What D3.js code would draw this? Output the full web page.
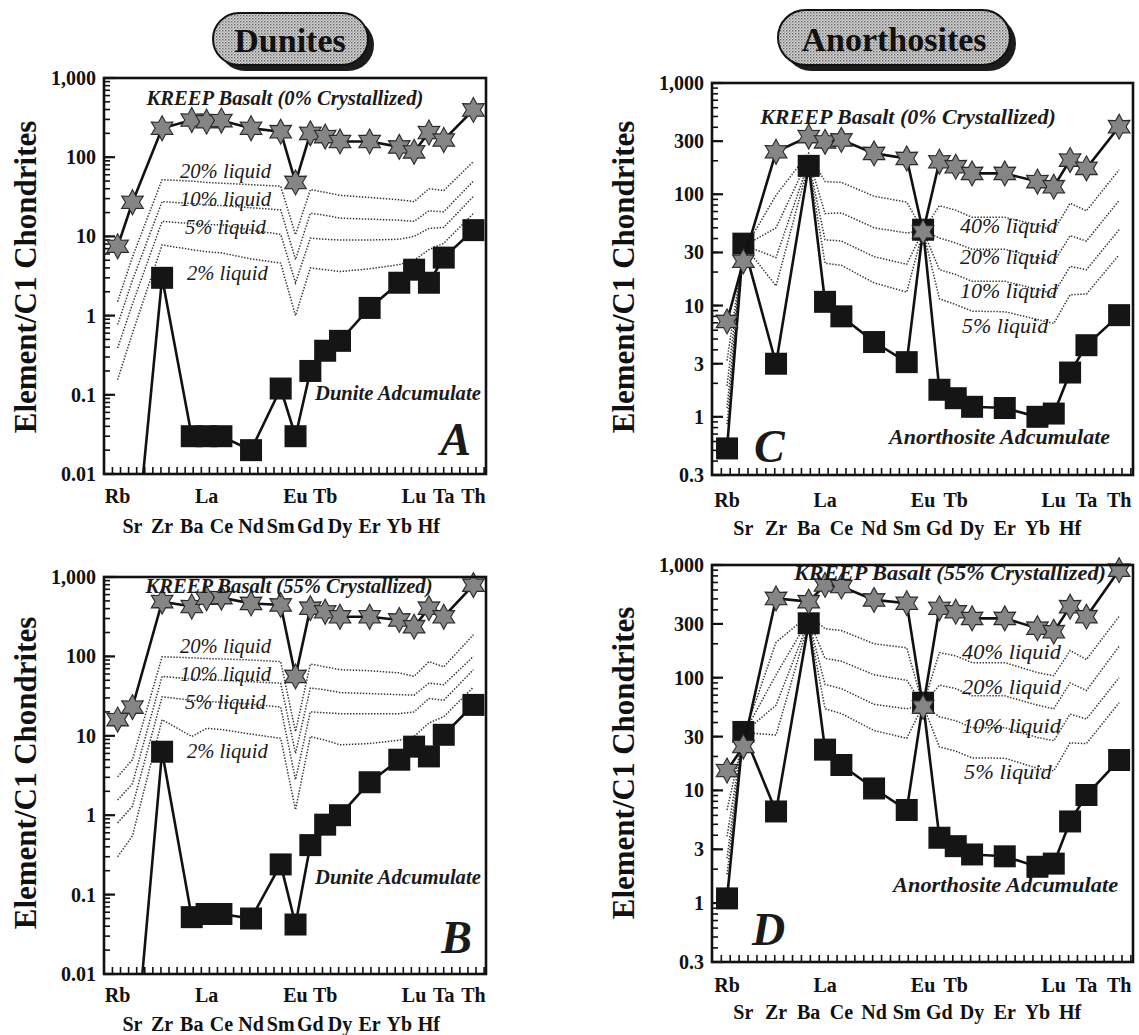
<!DOCTYPE html>
<html><head><meta charset="utf-8">
<script src="https://cdn.jsdelivr.net/npm/d3@7"></script>
<style>body{margin:0;background:#fff} svg{display:block}</style>
</head><body>
<svg id="chart" width="1139" height="1035"></svg>
<script>
// ---------- DATA ----------
const elements = ["Rb","Sr","Zr","Ba","La","Ce","Nd","Sm","Eu","Gd","Tb","Dy","Er","Yb","Lu","Hf","Ta","Th"];
const elementPos = [0,1,3,5,6,7,9,11,12,13,14,15,17,19,20,21,22,24];
const labelRow = [0,1,1,1,0,1,1,1,0,1,0,1,1,1,0,1,0,0]; // 0 = upper row, 1 = lower row

const yTicksDunite = [0.01, 0.1, 1, 10, 100, 1000];
const yTickLabelsDunite = ["0.01", "0.1", "1", "10", "100", "1,000"];
const yTicksAnorth = [0.3, 1, 3, 10, 30, 100, 300, 1000];
const yTickLabelsAnorth = ["0.3", "1", "3", "10", "30", "100", "300", "1,000"];

// Panel A : Dunites, KREEP 0% crystallized
const kreepA = [7.5, 27, 232, 295, 281, 290, 232, 210, 48, 200, 182, 158, 158, 135, 117, 205, 165, 395];
const adcumA = [0.0001, 0.0004, 3, 0.03, 0.03, 0.03, 0.02, 0.12, 0.03, 0.2, 0.36, 0.48, 1.25, 2.6, 3.8, 2.6, 5.4, 12];
const liqA20 = [1.5, 5.5, 52, 50, 48, 47, 45, 43, 10.5, 39, 36, 33, 31, 29, 27.5, 40, 38, 88];
const liqA10 = [0.77, 2.8, 27.5, 26, 25, 24.5, 23, 21.6, 5.1, 19.6, 18.5, 17, 16.5, 16, 15.5, 21, 20.5, 50];
const liqA5  = [0.39, 1.4, 15.5, 14.5, 14, 14, 12, 10.6, 2.6, 9.5, 9.2, 9, 9, 9.2, 10, 12.6, 13, 32];
const liqA2  = [0.155, 0.6, 7.8, 6.8, 6.4, 6.2, 5.2, 4.6, 1.0, 4.0, 3.8, 3.6, 3.9, 4.4, 5, 6.8, 8.2, 19.5];

// Panel B : Dunites, KREEP 55% crystallized
const kreepB = [16, 23, 490, 425, 540, 550, 465, 445, 56, 405, 365, 316, 316, 288, 237, 405, 316, 790];
const adcumB = [0.0001, 0.0004, 6.3, 0.052, 0.057, 0.057, 0.05, 0.24, 0.042, 0.42, 0.76, 1.0, 2.6, 5.0, 7.3, 5.5, 10.3, 24.5];
const liqB20 = [3.05, 5, 99, 96, 94, 93, 90, 86, 11.3, 80, 74, 68, 66, 62, 56, 86, 74, 187];
const liqB10 = [1.55, 2.5, 56, 52, 51, 50, 48, 46, 6.0, 40, 38, 35, 34, 33, 32.5, 46, 44, 100];
const liqB5  = [0.8, 1.3, 31, 28, 27, 26.5, 25, 23, 2.8, 20, 19.5, 19, 19, 19, 20, 29.5, 28, 68];
const liqB2  = [0.3, 0.55, 16, 9.8, 12.4, 12, 10.5, 9.3, 1.17, 9.8, 8.8, 7.7, 8, 8.8, 9.8, 14.5, 17.4, 41];

// Panel C : Anorthosites, KREEP 0% crystallized
const kreepC = [7.2, 25, 241, 330, 296, 308, 233, 210, 46, 196, 177, 154, 154, 130, 117, 203, 171, 405];
const adcumC = [0.52, 36, 3.0, 180, 10.8, 8, 4.7, 3.1, 48, 1.75, 1.47, 1.23, 1.2, 1.0, 1.07, 2.5, 4.4, 8.2];
const liqC40 = [3.2, 31, 98, 235, 130, 128, 96, 85, 47, 79, 72, 62, 62, 53, 47, 83, 71, 166];
const liqC20 = [1.9, 34, 50, 210, 67, 68, 50, 45, 47, 40.5, 36.5, 32, 32, 27, 24.5, 42.5, 38, 88];
const liqC10 = [1.2, 35, 27, 195, 39, 38, 27.5, 23.5, 47, 21, 19, 16.5, 16.5, 14, 12.7, 22.5, 21, 48];
const liqC5  = [0.86, 35.5, 15, 188, 24, 23, 16, 13.2, 47, 11.5, 10.2, 8.9, 8.8, 7.5, 6.9, 12.5, 12.7, 28.5];

// Panel D : Anorthosites, KREEP 55% crystallized
const kreepD = [15, 24.5, 505, 473, 665, 645, 490, 458, 55, 413, 385, 336, 336, 275, 256, 427, 348, 900];
const adcumD = [1.1, 33, 6.5, 304, 23, 16.8, 10.4, 6.7, 60, 3.8, 3.2, 2.7, 2.6, 2.1, 2.24, 5.3, 9.1, 18.6];
const liqD40 = [6.7, 29.6, 206, 360, 272, 262, 200, 184, 57, 167, 156, 136, 136, 111, 104, 174, 145, 350];
const liqD20 = [3.9, 31.3, 106, 330, 148, 140, 106, 95, 57, 86, 80, 69, 69, 57, 53, 90, 77, 190];
const liqD10 = [2.5, 32.2, 57, 318, 87, 80, 58, 53, 57, 45, 41.5, 36, 36, 29.5, 27.6, 47.5, 43, 100];
const liqD5  = [1.8, 32.6, 31, 310, 53, 48, 34, 29, 57, 24.3, 22.3, 19.4, 19.3, 15.7, 14.9, 26.4, 26, 60];

// ---------- LAYOUT ----------
const panels = [
  { frame:{x:104,y:78,w:382,h:396}, yDomain:[0.01,1000], ticks:yTicksDunite, tickLabels:yTickLabelsDunite,
    kreep:kreepA, adcum:adcumA, liquids:[liqA20,liqA10,liqA5,liqA2], hs:1.03,
    liqNames:["20% liquid","10% liquid","5% liquid","2% liquid"], liqX:[180,180,185,187], liqY:[178,206,234,280],
    kreepText:"KREEP Basalt (0% Crystallized)", kreepX:285, kreepY:105,
    adText:"Dunite Adcumulate", adX:315, adY:400, letter:"A", letterX:471, letterY:455,
    xRowY:[503,533], yTitleX:36, yTitleY:277 },
  { frame:{x:104,y:577,w:382,h:397}, yDomain:[0.01,1000], ticks:yTicksDunite, tickLabels:yTickLabelsDunite,
    kreep:kreepB, adcum:adcumB, liquids:[liqB20,liqB10,liqB5,liqB2], hs:1.03,
    liqNames:["20% liquid","10% liquid","5% liquid","2% liquid"], liqX:[180,180,185,187], liqY:[653,681,709,758],
    kreepText:"KREEP Basalt (55% Crystallized)", kreepX:289, kreepY:593,
    adText:"Dunite Adcumulate", adX:315, adY:884, letter:"B", letterX:472, letterY:953,
    xRowY:[1002,1031], yTitleX:36, yTitleY:773 },
  { frame:{x:712,y:83,w:421,h:392}, yDomain:[0.3,1000], ticks:yTicksAnorth, tickLabels:yTickLabelsAnorth,
    kreep:kreepC, adcum:adcumC, liquids:[liqC40,liqC20,liqC10,liqC5], hs:1.1,
    liqNames:["40% liquid","20% liquid","10% liquid","5% liquid"], liqX:[960,960,960,962], liqY:[233,264,298,333],
    kreepText:"KREEP Basalt (0% Crystallized)", kreepX:908, kreepY:124,
    adText:"Anorthosite Adcumulate", adX:889, adY:444, letter:"C", letterX:754, letterY:462,
    xRowY:[507,535], yTitleX:634, yTitleY:277, letterStart:true },
  { frame:{x:712,y:565,w:421,h:397}, yDomain:[0.3,1000], ticks:yTicksAnorth, tickLabels:yTickLabelsAnorth,
    kreep:kreepD, adcum:adcumD, liquids:[liqD40,liqD20,liqD10,liqD5], hs:1.12,
    liqNames:["40% liquid","20% liquid","10% liquid","5% liquid"], liqX:[962,962,962,964], liqY:[659,694,733,779],
    kreepText:"KREEP Basalt (55% Crystallized)", kreepX:950, kreepY:580,
    adText:"Anorthosite Adcumulate", adX:893, adY:892, letter:"D", letterX:752, letterY:945,
    xRowY:[992,1019], yTitleX:634, yTitleY:763, letterStart:true }
];

const svg = d3.select("#chart");
const SERIF = "'Liberation Serif','Times New Roman',serif";

// stipple pattern for the title pills
const defs = svg.append("defs");
const pat = defs.append("pattern").attr("id","stipple").attr("width",3).attr("height",3)
  .attr("patternUnits","userSpaceOnUse");
pat.append("rect").attr("width",3).attr("height",3).attr("fill","#d4d4d4");
pat.append("rect").attr("width",1.4).attr("height",1.4).attr("fill","#666");
pat.append("rect").attr("x",1.5).attr("y",1.5).attr("width",1.2).attr("height",1.2).attr("fill","#888");

function pill(x, y, w, h, text, cx, by) {
  const g = svg.append("g");
  g.append("rect").attr("x",x+6).attr("y",y+6).attr("width",w).attr("height",h).attr("rx",h/2)
    .attr("fill","#1c1c1c");
  g.append("rect").attr("x",x).attr("y",y).attr("width",w).attr("height",h).attr("rx",h/2)
    .attr("fill","url(#stipple)").attr("stroke","#111").attr("stroke-width",2);
  g.append("text").attr("x",cx).attr("y",by).attr("text-anchor","middle")
    .style("font-family",SERIF).style("font-weight","bold").style("font-size","34px")
    .attr("fill","#111").text(text);
}
pill(213, 13, 155, 52, "Dunites", 290, 52);
pill(778, 10, 232, 55, "Anorthosites", 894, 51);

// hexagram marker
function starPath(R) {
  const r = R * 0.56, pts = [];
  for (let i = 0; i < 12; i++) {
    const a = -Math.PI/2 + i * Math.PI/6;
    const rad = i % 2 === 0 ? R : r;
    pts.push([rad*Math.cos(a), rad*Math.sin(a)]);
  }
  return "M" + pts.map(p => p[0].toFixed(2)+","+p[1].toFixed(2)).join("L") + "Z";
}
const STAR = starPath(12.5);

panels.forEach((p, pi) => {
  const f = p.frame;
  const x = d3.scaleLinear().domain([-0.92, 24.85]).range([f.x, f.x + f.w]);
  const y = d3.scaleLog().domain(p.yDomain).range([f.y + f.h, f.y]);
  const g = svg.append("g");

  const clipId = "clip" + pi;
  defs.append("clipPath").attr("id", clipId).append("rect")
    .attr("x", f.x - 14).attr("y", f.y - 14).attr("width", f.w + 28).attr("height", f.h + 14);

  // y ticks (major + minor), inward
  const [lo, hi] = p.yDomain;
  const minor = [];
  for (let e = Math.floor(Math.log10(lo)); e < Math.log10(hi); e++) {
    for (let m = 1; m <= 9; m++) {
      const v = m * Math.pow(10, e);
      if (v >= lo * 0.999 && v <= hi * 1.001) minor.push(v);
    }
  }
  g.selectAll(".ymin").data(minor).enter().append("line")
    .attr("x1", f.x).attr("x2", f.x + 6).attr("y1", d => y(d)).attr("y2", d => y(d))
    .attr("stroke", "#111").attr("stroke-width", 1.6);
  g.selectAll(".ymaj").data(p.ticks).enter().append("line")
    .attr("x1", f.x).attr("x2", f.x + 11).attr("y1", d => y(d)).attr("y2", d => y(d))
    .attr("stroke", "#111").attr("stroke-width", 2.2);
  g.selectAll(".ylab").data(p.ticks).enter().append("text")
    .attr("x", f.x - 8).attr("y", d => y(d) + 7).attr("text-anchor", "end")
    .style("font-family", SERIF).style("font-weight", "bold").style("font-size", "20px")
    .attr("fill", "#111").text((d, i) => p.tickLabels[i]);

  // x ticks, inward
  const xt = d3.range(-0.35, 24.85, 0.545);
  g.selectAll(".xt").data(xt).enter().append("line")
    .attr("x1", d => x(d)).attr("x2", d => x(d)).attr("y1", f.y + f.h).attr("y2", f.y + f.h - 7)
    .attr("stroke", "#111").attr("stroke-width", 1.6);

  // x labels in two rows
  g.selectAll(".xlab").data(elements).enter().append("text")
    .attr("x", (d, i) => x(elementPos[i])).attr("y", (d, i) => p.xRowY[labelRow[i]])
    .attr("text-anchor", "middle")
    .style("font-family", SERIF).style("font-weight", "bold").style("font-size", "20px")
    .attr("fill", "#111").text(d => d);

  // y title
  g.append("text").attr("transform", `translate(${p.yTitleX},${p.yTitleY}) rotate(-90)`)
    .attr("text-anchor", "middle")
    .style("font-family", SERIF).style("font-weight", "bold").style("font-size", "31px")
    .attr("fill", "#111").text("Element/C1 Chondrites");

  const plot = g.append("g").attr("clip-path", `url(#${clipId})`);
  const line = d3.line().x((d, i) => x(elementPos[i])).y(d => y(d));

  // dotted liquid curves
  p.liquids.forEach(arr => {
    plot.append("path").datum(arr).attr("d", line).attr("fill", "none")
      .attr("stroke", "#333").attr("stroke-width", 1.5).attr("stroke-dasharray", "1.4 1.6");
  });

  // adcumulate line + squares
  plot.append("path").datum(p.adcum).attr("d", line).attr("fill", "none")
    .attr("stroke", "#111").attr("stroke-width", 2.6);
  const S = 22;
  plot.selectAll(".sq").data(p.adcum).enter().append("rect")
    .attr("x", (d, i) => x(elementPos[i]) - S/2).attr("y", d => y(d) - S/2)
    .attr("width", S).attr("height", S).attr("fill", "#151515");

  // KREEP line + stars
  plot.append("path").datum(p.kreep).attr("d", line).attr("fill", "none")
    .attr("stroke", "#111").attr("stroke-width", 2.6);
  plot.selectAll(".st").data(p.kreep).enter().append("path")
    .attr("d", STAR).attr("transform", (d, i) => `translate(${x(elementPos[i])},${y(d)})`)
    .attr("fill", "#858585").attr("stroke", "#2a2a2a").attr("stroke-width", 1.1);

  // frame
  g.append("rect").attr("x", f.x).attr("y", f.y).attr("width", f.w).attr("height", f.h)
    .attr("fill", "none").attr("stroke", "#111").attr("stroke-width", 2.6);

  // annotations (italic), horizontally stretched by hs
  const it = (sel, size, weight) => {
    sel.style("font-family", SERIF).style("font-style", "italic")
      .style("font-weight", weight).style("font-size", size + "px").attr("fill", "#1a1a1a");
    const L = sel.node().getComputedTextLength();
    sel.attr("textLength", L * p.hs).attr("lengthAdjust", "spacingAndGlyphs");
    return sel;
  };
  it(g.append("text").attr("x", p.kreepX).attr("y", p.kreepY).attr("text-anchor", "middle")
    .text(p.kreepText), 20, "bold");
  p.liqNames.forEach((t, i) => {
    it(g.append("text").attr("x", p.liqX[i]).attr("y", p.liqY[i]).text(t), 20, "normal");
  });
  it(g.append("text").attr("x", p.adX).attr("y", p.adY).text(p.adText), 20, "bold");
  g.append("text").attr("x", p.letterX).attr("y", p.letterY)
    .attr("text-anchor", p.letterStart ? "start" : "end")
    .style("font-family", SERIF).style("font-style", "italic").style("font-weight", "bold")
    .style("font-size", "46px").attr("fill", "#1a1a1a").text(p.letter);
});
</script>
</body></html>
